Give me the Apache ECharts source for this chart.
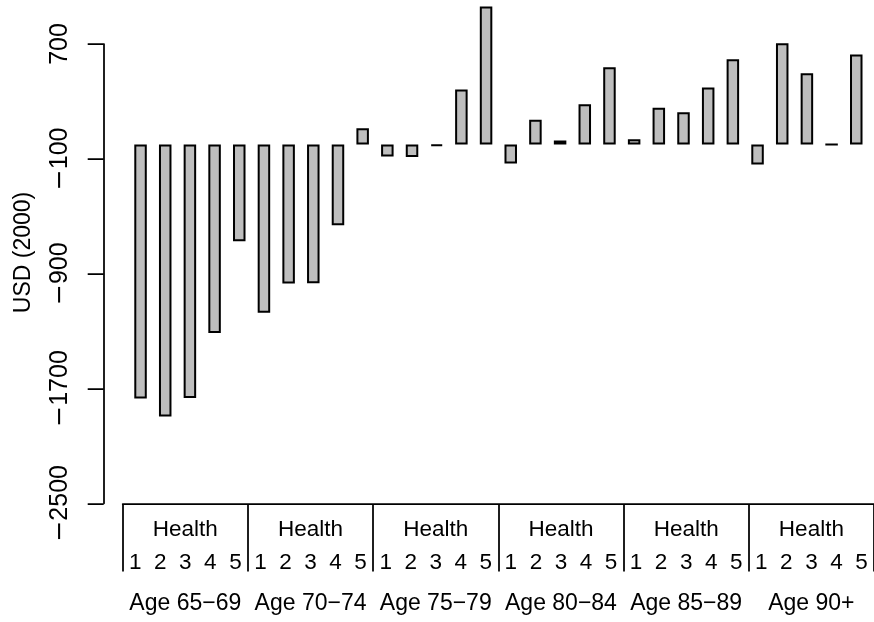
<!DOCTYPE html>
<html>
<head>
<meta charset="utf-8">
<script src="https://cdn.jsdelivr.net/npm/echarts@6/dist/echarts.min.js"></script>
<style>html,body{margin:0;padding:0;background:#fff}#chart{width:874px;height:622px}</style>
</head>
<body>
<div id="chart"></div>
<script>
const ageGroups = ['Age 65\u221269', 'Age 70\u221274', 'Age 75\u221279', 'Age 80\u221284', 'Age 85\u221289', 'Age 90+'];
const healthLevels = ['1', '2', '3', '4', '5'];
const groupLabel = 'Health';
const values = [
  -1770, -1895, -1767, -1313, -675,
  -1173, -969, -967, -563, 113,
  -84, -88, -10, 383, 962,
  -132, 172, 28, 280, 538,
  37, 255, 225, 397, 594,
  -139, 705, 496, 0, 626
];
const yTicks = [-2500, -1700, -900, -100, 700];
const yTitle = 'USD (2000)';

const cats = [];
ageGroups.forEach(a => healthLevels.forEach(h => cats.push(a + ' / ' + h)));
const numberLabels = [];
ageGroups.forEach(() => healthLevels.forEach(h => numberLabels.push(h)));
const healthRow = ageGroups.map(() => groupLabel);

const FONT = "'Liberation Sans', Arial, Helvetica, sans-serif";
const chart = echarts.init(document.getElementById('chart'), null, {renderer: 'canvas'});
chart.setOption({
  animation: false,
  backgroundColor: '#ffffff',
  grid: [
    {left: 128.2, right: 5.4, top: 44, bottom: 118.7, containLabel: false},
    {left: 122.7, right: 0, top: 400, bottom: 118, containLabel: false}
  ],
  xAxis: [
    {type: 'category', gridIndex: 0, data: cats, show: false},
    {type: 'category', gridIndex: 1, data: healthRow, position: 'bottom',
     axisLine: {show: true, lineStyle: {color: '#000', width: 1.75}},
     axisTick: {show: true, interval: 0, length: 67.5, lineStyle: {color: '#000', width: 1.75}},
     axisLabel: {show: true, interval: 0, margin: 26, verticalAlign: 'middle', color: '#000', fontSize: 22.5, fontFamily: FONT}},
    {type: 'category', gridIndex: 1, data: numberLabels, position: 'bottom',
     axisLine: {show: false}, axisTick: {show: false},
     axisLabel: {show: true, interval: 0, margin: 59, verticalAlign: 'middle', color: '#000', fontSize: 22.5, fontFamily: FONT}},
    {type: 'category', gridIndex: 1, data: ageGroups, position: 'bottom',
     axisLine: {show: false}, axisTick: {show: false},
     axisLabel: {show: true, interval: 0, margin: 100, verticalAlign: 'middle', color: '#000', fontSize: 23, fontFamily: FONT}}
  ],
  yAxis: [
    {type: 'value', gridIndex: 0, min: yTicks[0], max: yTicks[yTicks.length - 1], interval: 800,
     offset: 24.5, splitLine: {show: false},
     axisLine: {show: true, lineStyle: {color: '#000', width: 1.75}},
     axisTick: {show: true, length: 16, lineStyle: {color: '#000', width: 1.75}, customValues: yTicks},
     axisLabel: {show: true, rotate: 90, margin: 31, color: '#000', fontSize: 25, fontFamily: FONT,
       customValues: yTicks,
       formatter: v => v < 0 ? '{m|\u2212}' + String(-v) : String(v),
       rich: {m: {fontFamily: "'DejaVu Sans', sans-serif", fontSize: 25, color: '#000'}}}},
    {type: 'value', gridIndex: 1, show: false}
  ],
  graphic: [
    {type: 'text', x: 24, y: 252.5, rotation: Math.PI / 2,
     style: {text: yTitle, font: "23px " + FONT, fill: '#000', textAlign: 'center', textVerticalAlign: 'middle'}}
  ],
  series: [
    {type: 'bar', xAxisIndex: 0, yAxisIndex: 0, data: values, barWidth: 12.5, clip: false,
     itemStyle: {color: '#BEBEBE', borderColor: '#000', borderWidth: 2}}
  ]
});
</script>
</body>
</html>
